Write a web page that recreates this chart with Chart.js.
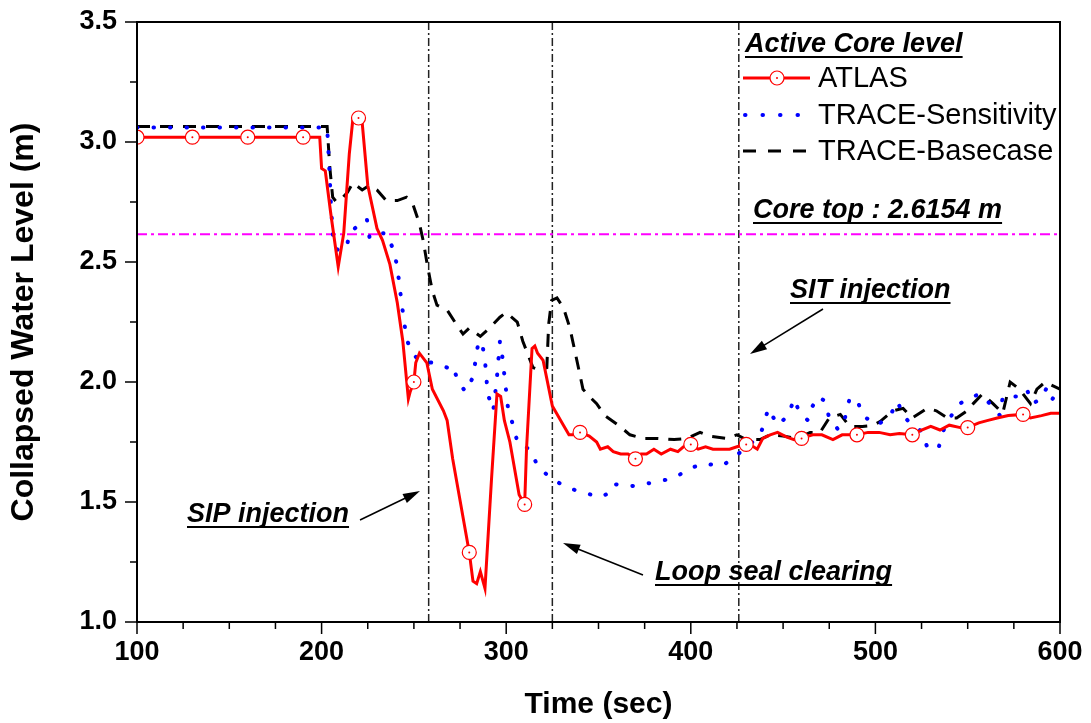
<!DOCTYPE html>
<html>
<head>
<meta charset="utf-8">
<title>Active core collapsed water level</title>
<script src="https://cdn.jsdelivr.net/npm/chart.js@4.4.1/dist/chart.umd.min.js"></script>
<style>
  body { margin: 0; background: #fff; }
  canvas { display: block; }
</style>
</head>
<body>
<canvas id="chart" width="1091" height="723"></canvas>
<script>
"use strict";

// ATLAS test data (red, circles every 30 s)
const atlasTime = [100, 130, 160, 190, 199, 200, 202, 205, 209, 212, 215, 217, 220, 222, 225, 230, 233, 237, 241, 244,
  247, 248, 250, 251, 253, 257, 260, 266, 268, 271, 277, 280, 282, 284, 286, 288.5, 292, 295, 297, 299,
  302, 307, 310, 311, 314, 315.5, 317, 320, 325, 331, 334, 337, 340, 345, 349, 351, 355, 358, 362, 366,
  370, 373, 376, 380, 384, 389, 393, 396, 400, 404, 408, 412, 417, 421, 425, 430, 434, 436, 439, 443,
  447, 452, 456, 460, 466, 471, 477, 482, 487, 490, 496, 502, 508, 513, 520, 525, 530, 535, 540, 546,
  550, 556, 561, 566, 572, 580, 584, 590, 595, 600];
const atlasLevel = [3.02, 3.02, 3.02, 3.02, 3.02, 2.89, 2.88, 2.70, 2.48, 2.62, 2.95, 3.10, 3.10, 3.08, 2.82, 2.64, 2.59, 2.49, 2.33, 2.17,
  1.93, 1.96, 2.00, 2.08, 2.12, 2.08, 1.97, 1.88, 1.84, 1.68, 1.42, 1.29, 1.17, 1.16, 1.21, 1.14, 1.59, 1.95, 1.94, 1.84,
  1.75, 1.53, 1.49, 1.72, 2.14, 2.15, 2.12, 2.09, 1.90, 1.82, 1.78, 1.78, 1.79, 1.775, 1.75, 1.72, 1.73, 1.71, 1.70, 1.70,
  1.68, 1.70, 1.70, 1.72, 1.70, 1.72, 1.71, 1.73, 1.74, 1.72, 1.73, 1.72, 1.72, 1.72, 1.73, 1.74, 1.73, 1.72, 1.765, 1.78,
  1.79, 1.77, 1.76, 1.765, 1.78, 1.78, 1.76, 1.78, 1.78, 1.78, 1.79, 1.79, 1.78, 1.785, 1.78, 1.80, 1.815, 1.80, 1.82, 1.81,
  1.81, 1.83, 1.84, 1.85, 1.86, 1.865, 1.85, 1.86, 1.87, 1.87];
const markerTime = [100, 130, 160, 190, 220, 250, 280, 310, 340, 370, 400, 430, 460, 490, 520, 550, 580];

// TRACE sensitivity run (blue dots)
const sensTime = [100, 203, 204, 205, 206, 207, 209, 213.5, 215, 221, 224.5, 226, 230, 235, 239, 241, 243.5, 246, 249, 253,
  260, 268, 271, 274, 278, 282, 285, 287, 288.5, 290, 293, 295, 296.6, 297.7, 300, 301, 303.7, 306.4, 313, 317,
  324, 333, 341.6, 351, 355, 358, 367, 375, 382, 391, 399.6, 406.6, 417, 424, 432, 437.5, 439, 442, 447, 452.7,
  456, 459, 463.5, 466, 469, 472.7, 475, 480, 483.5, 486, 490, 493, 501, 508, 512, 515, 520, 525, 528, 534,
  537, 544, 549.6, 556.7, 562, 567.5, 569, 576.7, 582, 585, 590, 593, 596, 600];
const sensLevel = [3.06, 3.06, 2.92, 2.75, 2.62, 2.56, 2.55, 2.555, 2.62, 2.66, 2.68, 2.60, 2.62, 2.62, 2.55, 2.48, 2.32, 2.18, 2.12, 2.09,
  2.08, 2.06, 2.07, 2.00, 1.96, 2.02, 2.17, 2.16, 2.09, 1.95, 1.88, 2.02, 2.17, 2.12, 1.96, 1.89, 1.82, 1.74, 1.72, 1.65,
  1.60, 1.56, 1.54, 1.52, 1.535, 1.575, 1.565, 1.575, 1.585, 1.60, 1.64, 1.66, 1.65, 1.69, 1.74, 1.78, 1.81, 1.89, 1.82, 1.86,
  1.93, 1.87, 1.84, 1.90, 1.94, 1.92, 1.85, 1.80, 1.85, 1.93, 1.93, 1.86, 1.82, 1.86, 1.92, 1.86, 1.82, 1.795, 1.73, 1.72,
  1.80, 1.90, 1.93, 1.95, 1.91, 1.86, 1.94, 1.94, 1.97, 1.91, 1.93, 1.98, 1.93, 1.98];

// TRACE base case (black dashes)
const baseTime = [100, 203, 204.5, 206, 208, 211.6, 214, 217, 222, 226, 230, 235, 241, 246, 249.5, 253, 255, 257, 258.7, 260,
  262.5, 268, 273, 276.6, 280, 286, 291, 296.6, 300, 306, 309, 311, 314.5, 318, 322, 323, 324.6, 327.5, 331, 334.5,
  338, 341.6, 345, 349, 353.5, 361.6, 367, 374, 381.7, 391, 398, 405, 410, 419.6, 425, 430, 437.5, 443, 450, 457.5,
  464.6, 470, 475, 481, 486, 493, 499, 502.5, 509.5, 515, 520, 528, 533, 539, 544, 549.6, 553, 558, 563.7, 569,
  573, 578, 584, 587.5, 592, 600];
const baseLevel = [3.065, 3.065, 2.89, 2.77, 2.75, 2.77, 2.79, 2.83, 2.80, 2.82, 2.80, 2.756, 2.756, 2.77, 2.74, 2.66, 2.59, 2.50, 2.43, 2.38,
  2.32, 2.30, 2.24, 2.20, 2.225, 2.19, 2.225, 2.27, 2.29, 2.25, 2.17, 2.13, 2.06, 2.05, 2.06, 2.24, 2.34, 2.35, 2.31, 2.225,
  2.10, 1.97, 1.94, 1.91, 1.86, 1.815, 1.78, 1.765, 1.765, 1.76, 1.765, 1.79, 1.775, 1.765, 1.78, 1.76, 1.76, 1.78, 1.775, 1.765,
  1.79, 1.79, 1.85, 1.865, 1.815, 1.815, 1.82, 1.835, 1.88, 1.89, 1.85, 1.89, 1.88, 1.85, 1.85, 1.88, 1.91, 1.95, 1.91, 1.87,
  2.00, 1.97, 1.91, 1.97, 2.00, 1.97];

// events (SIP injection, loop seal clearing, SIT injection) and core top
const eventTime = [258, 325, 426];
const coreTop = 2.6154;

const FONT = "'Liberation Sans', Arial, sans-serif";

const toPoints = (xs, ys) => xs.map((x, i) => ({ x: x, y: ys[i] }));

const datasets = [
  {
    label: "ATLAS",
    data: toPoints(atlasTime, atlasLevel),
    borderColor: "#ff0000",
    borderWidth: 3,
    pointRadius: (c) => (markerTime.includes(c.raw.x) ? 7 : 0),
    pointBorderColor: "#ff0000",
    pointBackgroundColor: "#ffffff",
    pointBorderWidth: 1.2,
    order: 0,
  },
  {
    label: "TRACE-Sensitivity",
    data: toPoints(sensTime, sensLevel),
    borderColor: "#0000ff",
    borderWidth: 4,
    borderDash: [0.5, 16],
    borderCapStyle: "round",
    pointRadius: 0,
    order: 1,
  },
  {
    label: "TRACE-Basecase",
    data: toPoints(baseTime, baseLevel),
    borderColor: "#000000",
    borderWidth: 3,
    borderDash: [13, 10],
    pointRadius: 0,
    order: 2,
  },
  {
    label: "Core top",
    data: [{ x: 100, y: coreTop }, { x: 600, y: coreTop }],
    borderColor: "#ff00ff",
    borderWidth: 2,
    borderDash: [10, 4, 3, 4],
    pointRadius: 0,
    order: 3,
  },
];

eventTime.forEach((t) => {
  datasets.push({
    label: "event " + t,
    data: [{ x: t, y: 1.0 }, { x: t, y: 3.5 }],
    borderColor: "#222222",
    borderWidth: 1.5,
    borderDash: [8, 3, 2, 3],
    pointRadius: 0,
    order: 4,
  });
});

function arrow(ctx, x1, y1, x2, y2) {
  const a = Math.atan2(y2 - y1, x2 - x1);
  const c = Math.cos(a), s = Math.sin(a);
  ctx.beginPath();
  ctx.moveTo(x1, y1);
  ctx.lineTo(x2 - 12 * c, y2 - 12 * s);
  ctx.stroke();
  ctx.beginPath();
  ctx.moveTo(x2, y2);
  ctx.lineTo(x2 - 17 * c + 5 * s, y2 - 17 * s - 5 * c);
  ctx.lineTo(x2 - 17 * c - 5 * s, y2 - 17 * s + 5 * c);
  ctx.closePath();
  ctx.fill();
}

function note(ctx, text, x, y, font, underline) {
  ctx.font = font;
  ctx.textAlign = "left";
  ctx.textBaseline = "alphabetic";
  ctx.fillText(text, x, y);
  if (underline) {
    ctx.fillRect(x, y + 4, ctx.measureText(text).width, 2);
  }
}

const decorations = {
  id: "decorations",
  afterDatasetsDraw(chart) {
    // small dot in the middle of each ATLAS circle
    const ctx = chart.ctx;
    const meta = chart.getDatasetMeta(0);
    ctx.save();
    ctx.fillStyle = "#ff0000";
    meta.data.forEach((pt, i) => {
      if (markerTime.includes(atlasTime[i])) {
        ctx.beginPath();
        ctx.arc(pt.x, pt.y, 1, 0, Math.PI * 2);
        ctx.fill();
      }
    });
    ctx.restore();
  },
  afterDraw(chart) {
    const ctx = chart.ctx;
    const a = chart.chartArea;
    const xs = chart.scales.x;
    const ys = chart.scales.y;
    ctx.save();

    // frame
    ctx.strokeStyle = "#000";
    ctx.lineWidth = 2;
    ctx.strokeRect(a.left, a.top, a.right - a.left, a.bottom - a.top);

    // ticks, pointing outward
    ctx.lineWidth = 1.5;
    ctx.beginPath();
    for (let t = 100; t <= 600; t += 25) {
      const px = xs.getPixelForValue(t);
      const len = t % 100 === 0 ? 12 : 7;
      ctx.moveTo(px, a.bottom);
      ctx.lineTo(px, a.bottom + len);
    }
    for (let v = 1.0; v <= 3.5001; v += 0.25) {
      const py = ys.getPixelForValue(v);
      const len = Math.abs(v * 2 - Math.round(v * 2)) < 0.01 ? 12 : 7;
      ctx.moveTo(a.left, py);
      ctx.lineTo(a.left - len, py);
    }
    ctx.stroke();

    ctx.fillStyle = "#000";
    const boldItalic = "italic bold 27px " + FONT;

    // legend
    note(ctx, "Active Core level", 745, 52, boldItalic, true);
    ctx.lineWidth = 3;
    ctx.strokeStyle = "#ff0000";
    ctx.beginPath();
    ctx.moveTo(743, 78);
    ctx.lineTo(810, 78);
    ctx.stroke();
    ctx.fillStyle = "#fff";
    ctx.lineWidth = 1.2;
    ctx.beginPath();
    ctx.arc(777, 78, 7, 0, Math.PI * 2);
    ctx.fill();
    ctx.stroke();
    ctx.fillStyle = "#ff0000";
    ctx.beginPath();
    ctx.arc(777, 78, 1, 0, Math.PI * 2);
    ctx.fill();

    ctx.strokeStyle = "#0000ff";
    ctx.lineWidth = 4;
    ctx.lineCap = "round";
    ctx.setLineDash([0.5, 17]);
    ctx.beginPath();
    ctx.moveTo(745, 115);
    ctx.lineTo(808, 115);
    ctx.stroke();
    ctx.lineCap = "butt";

    ctx.strokeStyle = "#000";
    ctx.lineWidth = 3;
    ctx.setLineDash([13, 12]);
    ctx.beginPath();
    ctx.moveTo(743, 151);
    ctx.lineTo(812, 151);
    ctx.stroke();
    ctx.setLineDash([]);

    ctx.fillStyle = "#000";
    ctx.font = "29px " + FONT;
    ctx.textBaseline = "middle";
    ctx.fillText("ATLAS", 818, 79);
    ctx.fillText("TRACE-Sensitivity", 818, 116);
    ctx.fillText("TRACE-Basecase", 818, 152);

    // annotations
    note(ctx, "Core top : 2.6154 m", 753, 218, boldItalic, true);
    note(ctx, "SIT injection", 790, 298, boldItalic, true);
    note(ctx, "SIP injection", 187, 522, boldItalic, true);
    note(ctx, "Loop seal clearing", 655, 580, boldItalic, true);

    ctx.strokeStyle = "#000";
    ctx.lineWidth = 1.5;
    arrow(ctx, 823, 309, 750, 354);
    arrow(ctx, 360, 520, 420, 491);
    arrow(ctx, 643, 575, 563, 543);

    ctx.restore();
  },
};

new Chart(document.getElementById("chart"), {
  type: "line",
  data: { datasets: datasets },
  plugins: [decorations],
  options: {
    responsive: false,
    animation: false,
    devicePixelRatio: 1,
    layout: { padding: { top: 22, right: 31, left: 0, bottom: 0 } },
    elements: { line: { tension: 0 } },
    plugins: {
      legend: { display: false },
      tooltip: { enabled: false },
    },
    scales: {
      x: {
        type: "linear",
        min: 100,
        max: 600,
        afterFit: (s) => {
          s.height = 101;
          s.paddingLeft = 0;
          s.paddingRight = 0;
        },
        grid: { display: false, drawTicks: false },
        border: { display: false },
        ticks: {
          stepSize: 100,
          padding: 14,
          maxRotation: 0,
          color: "#000",
          font: { family: FONT, size: 27, weight: "bold" },
        },
        title: {
          display: true,
          text: "Time (sec)",
          color: "#000",
          font: { family: FONT, size: 30, weight: "bold" },
          padding: { top: 0, bottom: 0 },
        },
      },
      y: {
        type: "linear",
        min: 1.0,
        max: 3.5,
        afterFit: (s) => {
          s.width = 137;
          s.paddingTop = 0;
          s.paddingBottom = 0;
        },
        grid: { display: false, drawTicks: false },
        border: { display: false },
        ticks: {
          stepSize: 0.5,
          padding: 20,
          color: "#000",
          font: { family: FONT, size: 27, weight: "bold" },
          callback: (v) => Number(v).toFixed(1),
        },
        title: {
          display: true,
          text: "Collapsed Water Level (m)",
          color: "#000",
          font: { family: FONT, size: 32, weight: "bold" },
          padding: { top: 5, bottom: 0 },
        },
      },
    },
  },
});
</script>
</body>
</html>
